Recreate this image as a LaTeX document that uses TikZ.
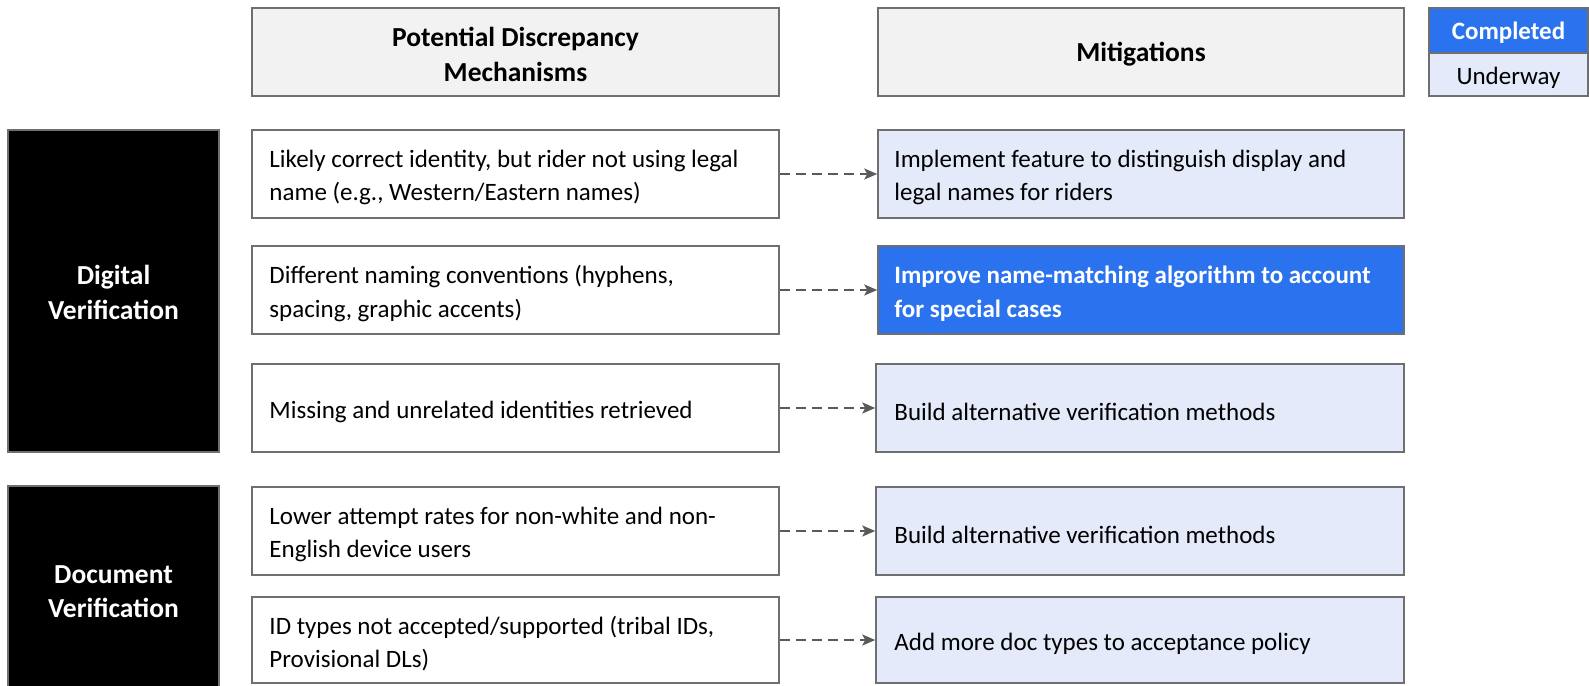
\documentclass[tikz,border=0pt]{standalone}
\usepackage{fontspec}
\setmainfont{Carlito}
\usetikzlibrary{arrows.meta}
\definecolor{bordergray}{HTML}{6F6F6F}
\definecolor{headfill}{HTML}{F2F2F2}
\definecolor{doneblue}{HTML}{2B73EE}
\definecolor{lightblue}{HTML}{E4EAFA}
\definecolor{arrowgray}{HTML}{5A5A5A}
\tikzset{
  base/.style={draw=bordergray, line width=1.5pt, inner sep=0pt},
  headbox/.style={base, fill=headfill, minimum width=527pt, minimum height=88pt},
  headtext/.style={inner sep=0pt, align=center, yshift=-2.5pt, font=\fontsize{27.5}{34.5}\selectfont\bfseries},
  catbox/.style={base, fill=black, minimum width=211pt},
  cattext/.style={inner sep=0pt, align=center, text=white, yshift=-1.5pt, font=\fontsize{27.5}{34.5}\selectfont\bfseries},
  legtext/.style={inner sep=0pt, yshift=-2.5pt, font=\fontsize{25}{30}\selectfont},
  leftbox/.style={base, fill=white, minimum width=527pt, minimum height=88pt},
  rightbox/.style={base, fill=lightblue, minimum height=88pt},
  donebox/.style={base, fill=doneblue, minimum height=88pt},
  bodytext/.style={anchor=west, align=left, inner sep=0pt, yshift=-3.5pt, font=\fontsize{25}{33.5}\selectfont},
  conn/.style={draw=arrowgray, line width=2pt, dash pattern=on 10pt off 6pt, -{Stealth[length=13pt,width=11pt,inset=3pt]}},
}
\begin{document}
\begin{tikzpicture}[x=1pt,y=-1pt]
\useasboundingbox (0,0) rectangle (1589,685);
\clip (0,0) rectangle (1589,685);
% headers
\node[headbox] (h1) at (515.5,52) {};
\node[headtext] (h1t) at (h1.center) {Potential Discrepancy\\Mechanisms};
\node[headbox, minimum width=526pt] (h2) at (1141,52) {};
\node[headtext] (h2t) at (h2.center) {Mitigations};
% legend
\node[base, fill=doneblue, minimum width=159pt, minimum height=45pt] (lc) at (1508.5,30.5) {};
\node[legtext, text=white, font=\fontsize{25}{30}\selectfont\bfseries] (lct) at (lc.center) {Completed};
\node[base, fill=lightblue, minimum width=159pt, minimum height=43pt] (lu) at (1508.5,74.5) {};
\node[legtext, yshift=-0.5pt] (lut) at (lu.center) {Underway};
% categories
\node[catbox, minimum height=322pt] (cd) at (113.5,291) {};
\node[cattext] (cdt) at (cd.center) {Digital\\Verification};
\node[catbox, minimum height=208pt] (cv) at (113.5,590) {};
\node[cattext] (cvt) at (cv.center) {Document\\Verification};
% left boxes
\node[leftbox] (l1) at (515.5,174) {};
\node[leftbox] (l2) at (515.5,290) {};
\node[leftbox] (l3) at (515.5,408) {};
\node[leftbox, minimum height=88pt] (l4) at (515.5,531) {};
\node[leftbox, minimum height=86pt] (l5) at (515.5,640) {};
\node[bodytext] (t1) at ([xshift=18pt]l1.west) {Likely correct identity, but rider not using legal\\name (e.g., Western/Eastern names)};
\node[bodytext] (t2) at ([xshift=18pt]l2.west) {Different naming conventions (hyphens,\\spacing, graphic accents)};
\node[bodytext] (t3) at ([xshift=18pt]l3.west) {Missing and unrelated identities retrieved};
\node[bodytext] (t4) at ([xshift=18pt]l4.west) {Lower attempt rates for non-white and non-\\English device users};
\node[bodytext] (t5) at ([xshift=18pt]l5.west) {ID types not accepted/supported (tribal IDs,\\Provisional DLs)};
% right boxes
\node[rightbox, minimum width=526pt] (r1) at (1141,174) {};
\node[donebox, minimum width=526pt] (r2) at (1141,290) {};
\node[rightbox, minimum width=528pt] (r3) at (1140,408) {};
\node[rightbox, minimum width=528pt] (r4) at (1140,531) {};
\node[rightbox, minimum width=528pt, minimum height=86pt] (r5) at (1140,640) {};
\node[bodytext] (s1) at ([xshift=17pt]r1.west) {Implement feature to distinguish display and\\legal names for riders};
\node[bodytext, text=white, font=\fontsize{25}{33.5}\selectfont\bfseries] (s2) at ([xshift=17pt]r2.west) {Improve name-matching algorithm to account\\for special cases};
\node[bodytext] (s3) at ([xshift=19pt]r3.west) {Build alternative verification methods};
\node[bodytext] (s4) at ([xshift=19pt]r4.west) {Build alternative verification methods};
\node[bodytext] (s5) at ([xshift=19pt]r5.west) {Add more doc types to acceptance policy};
% connectors
\foreach \i in {1,...,5} {
  \draw[conn] (l\i.east) -- (r\i.west);
}
\end{tikzpicture}
\end{document}
